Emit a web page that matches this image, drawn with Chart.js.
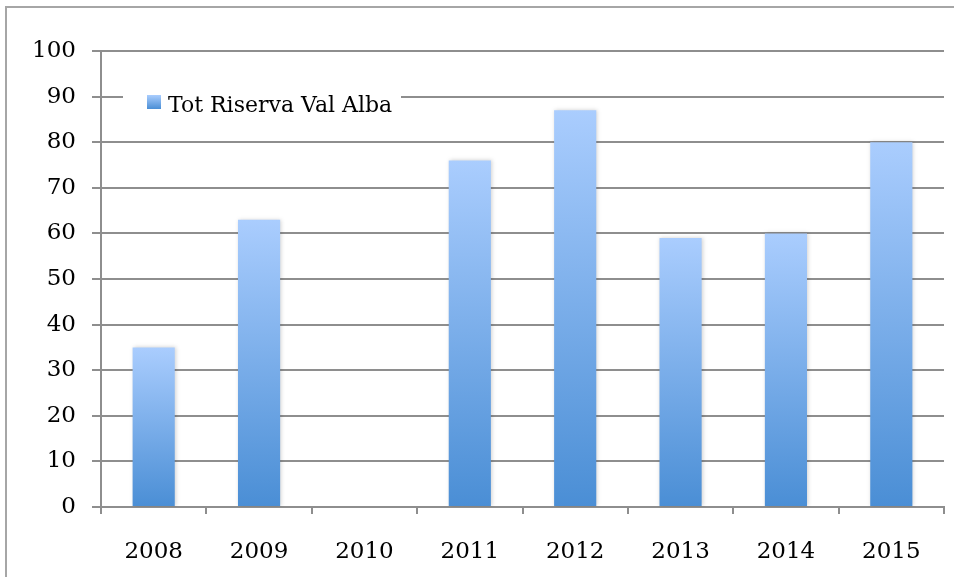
<!DOCTYPE html>
<html>
<head>
<meta charset="utf-8">
<script src="https://cdn.jsdelivr.net/npm/chart.js@4"></script>
<style>
  body { margin: 0; background: #fff; }
  #wrap { position: relative; width: 954px; height: 577px; overflow: hidden; }
  #frame { position: absolute; left: 5px; top: 6px; width: 960px; height: 600px; border: 2px solid #a6a6a6; box-sizing: border-box; }
  canvas { position: absolute; left: 0; top: 0; }
</style>
</head>
<body>
<div id="wrap">
  <div id="frame"></div>
  <canvas id="chart" width="954" height="577"></canvas>
</div>
<script>
const years = ["2008", "2009", "2010", "2011", "2012", "2013", "2014", "2015"];
const riserva = [35, 63, 0, 76, 87, 59, 60, 80];
const seriesName = "Tot Riserva Val Alba";
const yTicks = [0, 10, 20, 30, 40, 50, 60, 70, 80, 90, 100];

const fontFamily = "'DejaVu Serif', 'Liberation Serif', serif";
const gridGray = "#8e8e8e";

// each bar gets its own light-to-dark gradient like the original
function barGradient(ctx) {
  const chart = ctx.chart;
  if (!chart.chartArea || ctx.type !== "data") return "#7fb0ec";
  const y = chart.scales.y;
  const top = y.getPixelForValue(ctx.raw);
  const bottom = y.getPixelForValue(0);
  if (bottom - top < 1) return "#4a8fd6";
  const g = chart.ctx.createLinearGradient(0, top, 0, bottom);
  g.addColorStop(0, "#aacdfe");
  g.addColorStop(1, "#4a8ed5");
  return g;
}

// legend floats inside the plot on a white patch
const insideLegend = {
  id: "insideLegend",
  afterDatasetsDraw(chart) {
    const c = chart.ctx;
    c.save();
    c.fillStyle = "#fff";
    c.fillRect(123, 86, 278, 22);
    const g = c.createLinearGradient(0, 95, 0, 109);
    g.addColorStop(0, "#aacdfe");
    g.addColorStop(1, "#4a8ed5");
    c.fillStyle = g;
    c.fillRect(147, 95, 14, 14);
    c.fillStyle = "#000";
    c.font = "22px " + fontFamily;
    c.textBaseline = "alphabetic";
    c.fillText(seriesName, 168, 112);
    c.restore();
  }
};

const barShadow = {
  id: "barShadow",
  beforeDatasetsDraw(chart) {
    const c = chart.ctx;
    c.save();
    c.shadowColor = "rgba(0,0,0,0.18)";
    c.shadowBlur = 4;
    c.shadowOffsetX = 1;
    c.shadowOffsetY = 0;
  },
  afterDatasetsDraw(chart) {
    chart.ctx.restore();
  }
};

new Chart(document.getElementById("chart"), {
  type: "bar",
  data: {
    labels: years,
    datasets: [{
      label: seriesName,
      data: riserva,
      backgroundColor: barGradient,
      borderWidth: 0,
      barPercentage: 0.4,
      categoryPercentage: 1
    }]
  },
  plugins: [barShadow, insideLegend],
  options: {
    responsive: false,
    animation: false,
    layout: { padding: { left: 0, top: 51, right: 10, bottom: 0 } },
    plugins: {
      legend: { display: false },
      tooltip: { enabled: false }
    },
    scales: {
      x: {
        grid: { drawOnChartArea: false, color: gridGray, lineWidth: 2, tickLength: 7 },
        border: { color: gridGray, width: 2 },
        ticks: { color: "#000", padding: 24, font: { family: fontFamily, size: 23 } },
        afterFit(scale) { scale.height = 70; }
      },
      y: {
        min: 0,
        max: 100,
        afterBuildTicks(scale) { scale.ticks = yTicks.map(v => ({ value: v })); },
        grid: { color: gridGray, lineWidth: 2, tickLength: 9 },
        border: { color: gridGray, width: 2 },
        ticks: { color: "#000", padding: 16, font: { family: fontFamily, size: 23 } },
        afterFit(scale) { scale.width = 101; }
      }
    }
  }
});
</script>
</body>
</html>
